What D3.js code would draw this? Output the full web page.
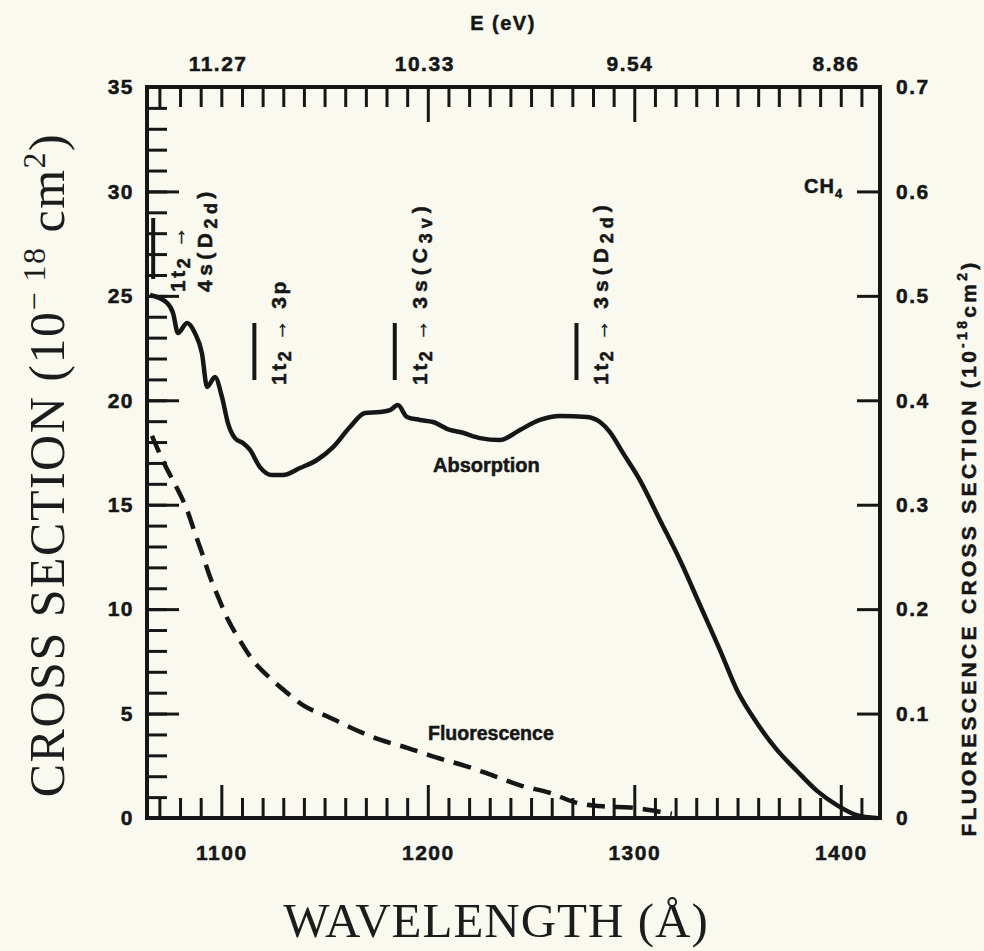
<!DOCTYPE html>
<html>
<head>
<meta charset="utf-8">
<script src="https://cdn.jsdelivr.net/npm/d3@7"></script>
<style>
  html, body { margin: 0; padding: 0; background: #faf9f0; }
  svg { display: block; }
  .lab { font-family: "Liberation Sans", "DejaVu Sans", sans-serif; font-weight: bold; fill: #161616;
         stroke: #161616; stroke-width: 0.5px; letter-spacing: 1.5px; }
  .serif { font-family: "Liberation Serif", "DejaVu Serif", serif; fill: #1c1c1c; }
</style>
</head>
<body>
<svg id="chart" width="984" height="951"></svg>
<script>
// CH4: photoabsorption cross section (left axis, 1e-18 cm^2)
const absWavelength = [1065.5, 1073.7, 1076.6, 1079.0, 1083.4, 1087.2, 1090.6, 1093.1, 1096.9, 1100.3,
  1103.2, 1106.6, 1110.5, 1113.9, 1118.7, 1124.5, 1129.9, 1138.1, 1146.3, 1154.1,
  1162.3, 1169.6, 1176.8, 1181.7, 1185.5, 1189.9, 1196.2, 1202.5, 1210.7, 1215.6,
  1225.3, 1234.9, 1244.6, 1254.3, 1264.0, 1277.1, 1283.4, 1288.2, 1294.5, 1302.7,
  1312.4, 1322.1, 1331.8, 1341.5, 1349.7, 1359.4, 1369.1, 1378.8, 1388.5, 1398.1,
  1407.8, 1417.5];
const absCrossSection = [25.04, 24.66, 24.18, 23.22, 23.70, 23.22, 22.26, 20.64, 21.11, 20.16,
  18.91, 18.19, 17.95, 17.62, 16.80, 16.42, 16.42, 16.76, 17.14, 17.76,
  18.72, 19.39, 19.44, 19.53, 19.77, 19.20, 19.06, 18.96, 18.58, 18.48,
  18.19, 18.10, 18.58, 19.06, 19.25, 19.20, 18.96, 18.48, 17.48, 16.18,
  14.27, 12.35, 10.20, 8.04, 6.13, 4.55, 3.26, 2.25, 1.30, 0.62,
  0.14, 0.0];

// Fluorescence cross section (right axis, 1e-18 cm^2)
const fluWavelength = [1066.4, 1072.7, 1079.0, 1083.4, 1087.2, 1090.6, 1094.5, 1098.4, 1103.2, 1109.0,
  1115.3, 1123.6, 1131.8, 1139.5, 1151.7, 1163.3, 1176.8, 1190.4, 1204.0, 1218.0,
  1231.1, 1245.1, 1259.2, 1271.3, 1285.8, 1297.9, 1312.4, 1318.2];
const fluCrossSection = [0.366, 0.338, 0.314, 0.295, 0.273, 0.254, 0.231, 0.212, 0.190, 0.170,
  0.151, 0.134, 0.120, 0.108, 0.097, 0.086, 0.075, 0.067, 0.058, 0.050,
  0.041, 0.031, 0.024, 0.015, 0.011, 0.010, 0.006, 0.004];

// Axis ticks
const wavelengthLabels = [1100, 1200, 1300, 1400];
const energyLabels = ["11.27", "10.33", "9.54", "8.86"];
const leftLabels = [0, 5, 10, 15, 20, 25, 30, 35];
const rightLabels = [0, 0.1, 0.2, 0.3, 0.4, 0.5, 0.6, 0.7];

// Rydberg transition assignments (wavelength in Å)
const transitionWavelength = [1067, 1116, 1184, 1272];
const transitionUpper = [
  [["4s("], ["D"], ["2d", "sub"], [")"]],
  [["3p"]],
  [["3s("], ["C"], ["3v", "sub"], [")"]],
  [["3s("], ["D"], ["2d", "sub"], [")"]]
];

const svg = d3.select("#chart");
const ink = "#161616";
const L = 147, R = 880, T = 87, B = 818;

const x = d3.scaleLinear().domain([1064, 1419]).range([L, R]);
const y = d3.scaleLinear().domain([0, 35]).range([B, T]);
const yR = d3.scaleLinear().domain([0, 0.7]).range([B, T]);

function styleAxis(g, w) {
  g.select(".domain").remove();
  g.selectAll(".tick line").attr("stroke", ink).attr("stroke-width", w);
  g.selectAll(".tick text").attr("class", "lab").style("font-size", "21px");
}

// left axis: minor every 1, major every 5
svg.append("g").attr("transform", `translate(${L},0)`)
  .call(d3.axisLeft(y).tickValues(d3.range(1, 35)).tickSize(-20).tickFormat(""))
  .call(g => styleAxis(g, 3));
svg.append("g").attr("transform", `translate(${L},0)`)
  .call(d3.axisLeft(y).tickValues(leftLabels).tickSize(-32).tickPadding(13).tickFormat(d3.format("d")))
  .call(g => styleAxis(g, 3))
  .call(g => g.selectAll(".tick line").filter(d => d === 0 || d === 35).remove());

// right axis
svg.append("g").attr("transform", `translate(${R},0)`)
  .call(d3.axisRight(yR).tickValues(rightLabels).tickSize(-23).tickPadding(16)
    .tickFormat(d => d === 0 ? "0" : d.toFixed(1)))
  .call(g => styleAxis(g, 3))
  .call(g => g.selectAll(".tick line").filter(d => d === 0 || d === 0.7).remove());

// bottom axis: every 10 Å, long ticks at the labelled hundreds
svg.append("g").attr("transform", `translate(0,${B})`)
  .call(d3.axisBottom(x).tickValues(d3.range(1070, 1411, 10).filter(v => v % 100 !== 0)).tickSize(-20).tickFormat(""))
  .call(g => styleAxis(g, 3));
svg.append("g").attr("transform", `translate(0,${B})`)
  .call(d3.axisBottom(x).tickValues(wavelengthLabels).tickSize(-33).tickPadding(27).tickFormat(d3.format("d")))
  .call(g => styleAxis(g, 3));

// top axis: photon energy (E = hc/λ)
svg.append("g").attr("transform", `translate(0,${T})`)
  .call(d3.axisTop(x).tickValues(d3.range(1070, 1411, 10).filter(v => v !== 1200 && v !== 1300)).tickSize(-20).tickFormat(""))
  .call(g => styleAxis(g, 3));
svg.append("g").attr("transform", `translate(0,${T})`)
  .call(d3.axisTop(x).tickValues([1200, 1300]).tickSize(-35).tickFormat(""))
  .call(g => styleAxis(g, 3));
svg.append("g").attr("transform", `translate(0,${T})`)
  .call(d3.axisTop(x).tickValues(energyLabels.map(e => 12398.42 / +e)).tickSize(0).tickPadding(16)
    .tickFormat((d, i) => energyLabels[i]))
  .call(g => styleAxis(g, 0))
  .call(g => g.selectAll(".tick text").attr("dx", "-4"));

// frame
svg.append("rect").attr("x", L).attr("y", T).attr("width", R - L).attr("height", B - T)
  .attr("fill", "none").attr("stroke", ink).attr("stroke-width", 4);

// curves
const absData = absWavelength.map((w, i) => [w, absCrossSection[i]]);
const fluData = fluWavelength.map((w, i) => [w, fluCrossSection[i]]);

svg.append("path").datum(absData)
  .attr("d", d3.line().x(d => x(d[0])).y(d => y(d[1])).curve(d3.curveMonotoneX))
  .attr("fill", "none").attr("stroke", ink).attr("stroke-width", 4.5)
  .attr("stroke-linejoin", "round");

svg.append("path").datum(fluData)
  .attr("d", d3.line().x(d => x(d[0])).y(d => yR(d[1])).curve(d3.curveMonotoneX))
  .attr("fill", "none").attr("stroke", ink).attr("stroke-width", 4.5)
  .attr("stroke-dasharray", "18,10");

// curve labels
svg.append("text").attr("class", "lab").attr("x", 433).attr("y", 472)
  .style("font-size", "20px").style("letter-spacing", "0px").text("Absorption");
svg.append("text").attr("class", "lab").attr("x", 428).attr("y", 740)
  .style("font-size", "19.5px").style("letter-spacing", "0px").text("Fluorescence");
const ch = svg.append("text").attr("class", "lab").attr("x", 804).attr("y", 193)
  .style("font-size", "20px").style("letter-spacing", "1px");
ch.append("tspan").text("CH");
ch.append("tspan").attr("dy", 5).style("font-size", "13px").text("4");

// transition markers: rotated "1t2 → upper state" text beside a short bar
function rotText(px, py, parts, size) {
  const t = svg.append("text").attr("class", "lab")
    .attr("transform", `translate(${px},${py}) rotate(-90)`)
    .style("font-size", size + "px").style("letter-spacing", "2.5px");
  let shift = 0;
  parts.forEach(p => {
    const ts = t.append("tspan").text(p[0]);
    if (p[2]) ts.style("letter-spacing", p[2] + "px");
    if (p[1] === "sub") {
      ts.attr("dy", 5 - shift).style("font-size", (size * 0.85) + "px");
      shift = 5;
    } else {
      if (shift) ts.attr("dy", -shift);
      shift = 0;
    }
  });
  return t;
}

transitionWavelength.forEach((w, i) => {
  const bx = x(w);
  const first = i === 0;
  svg.append("line").attr("x1", bx).attr("x2", bx)
    .attr("y1", first ? 218 : 323).attr("y2", first ? 279 : 380)
    .attr("stroke", ink).attr("stroke-width", 4);
  const lower = [["1t"], ["2", "sub"], [" \u2192 "]];
  const wide = transitionUpper[i].length > 1 ? (first ? 4.5 : 5) : 0;
  const upper = transitionUpper[i].map(p => wide ? [p[0], p[1], wide] : p);
  if (first) {
    rotText(bx + 32, 292, lower, 21);
    rotText(bx + 59, 292, upper, 21);
  } else {
    rotText(bx + 32, 385, lower.concat(upper), 21);
  }
});

// axis titles
svg.append("text").attr("class", "lab").attr("x", 503).attr("y", 30)
  .attr("text-anchor", "middle").style("font-size", "20px").text("E (eV)");

svg.append("text").attr("class", "serif").attr("x", 496).attr("y", 937)
  .attr("text-anchor", "middle").style("font-size", "49px").style("letter-spacing", "1px")
  .text("WAVELENGTH (\u00C5)");

const yt = svg.append("text").attr("class", "serif")
  .attr("transform", "translate(64,465) rotate(-90)")
  .attr("text-anchor", "middle").style("font-size", "50px").style("letter-spacing", "1.5px");
yt.append("tspan").text("CROSS SECTION (10");
yt.append("tspan").attr("dy", -19).style("font-size", "32px").text("\u2212 18");
yt.append("tspan").attr("dy", 19).text(" cm");
yt.append("tspan").attr("dy", -19).style("font-size", "32px").text("2");
yt.append("tspan").attr("dy", 19).text(")");

const yrt = svg.append("text").attr("class", "lab")
  .attr("transform", "translate(976,548) rotate(-90)")
  .attr("text-anchor", "middle").style("font-size", "21px").style("letter-spacing", "3.3px");
yrt.append("tspan").text("FLUORESCENCE CROSS SECTION (10");
yrt.append("tspan").attr("dy", -9).style("font-size", "14px").text("-18");
yrt.append("tspan").attr("dy", 9).text("cm");
yrt.append("tspan").attr("dy", -9).style("font-size", "14px").text("2");
yrt.append("tspan").attr("dy", 9).text(")");
</script>
</body>
</html>
